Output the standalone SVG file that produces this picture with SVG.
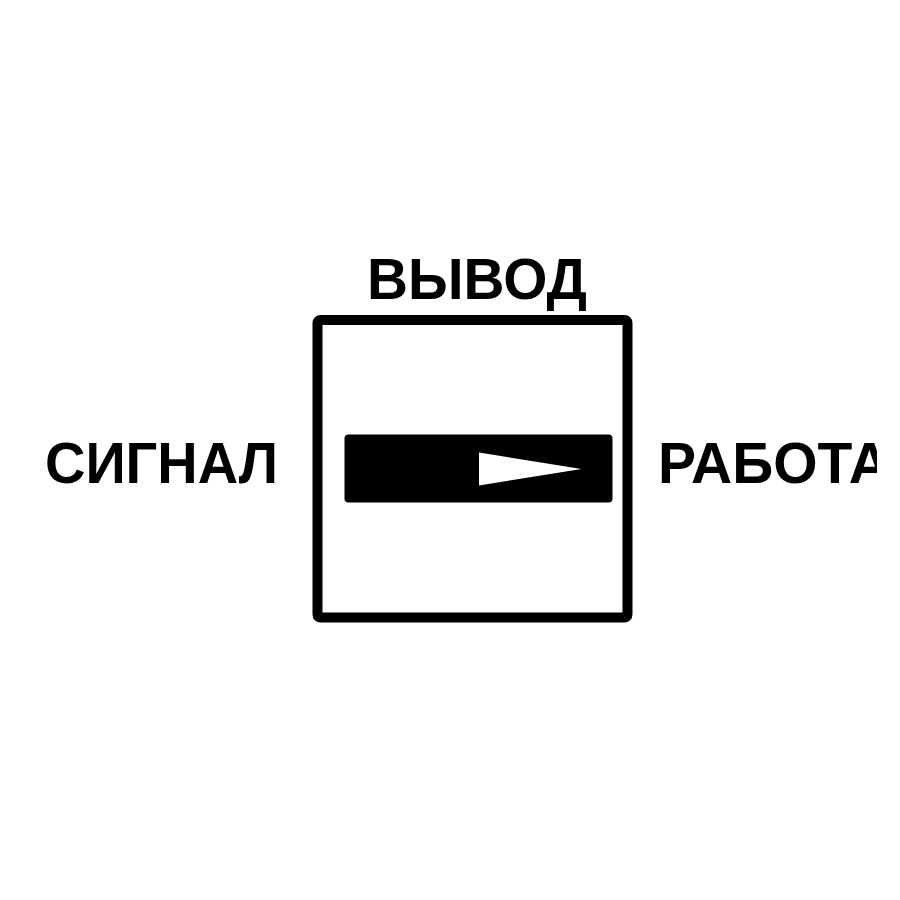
<svg xmlns="http://www.w3.org/2000/svg" width="900" height="900" viewBox="0 0 900 900">
<defs>
<style>
.lbl{font-family:"Liberation Sans",Arial,sans-serif;font-weight:bold;fill:#000;font-size:57px}
</style>
<clipPath id="clipR"><rect x="0" y="0" width="877" height="900"/></clipPath>
</defs>
<rect width="900" height="900" fill="#fff"/>
<g id="switch">
<rect x="317.5" y="320" width="310" height="297.5" rx="3" fill="#fff" stroke="#000" stroke-width="10"/>
<rect x="344.5" y="434.5" width="268" height="68" rx="4" fill="#000"/>
<polygon points="479,452.5 581.5,469 479,485.5" fill="#fff"/>
</g>
<g id="label-top"><text class="lbl" x="367" y="298.5" textLength="220" lengthAdjust="spacingAndGlyphs">ВЫВОД</text></g>
<g id="label-left"><text class="lbl" x="45" y="483" textLength="233" lengthAdjust="spacingAndGlyphs">СИГНАЛ</text></g>
<g id="label-right" clip-path="url(#clipR)"><text class="lbl" x="658" y="483.3">РАБОТА</text></g>
</svg>
